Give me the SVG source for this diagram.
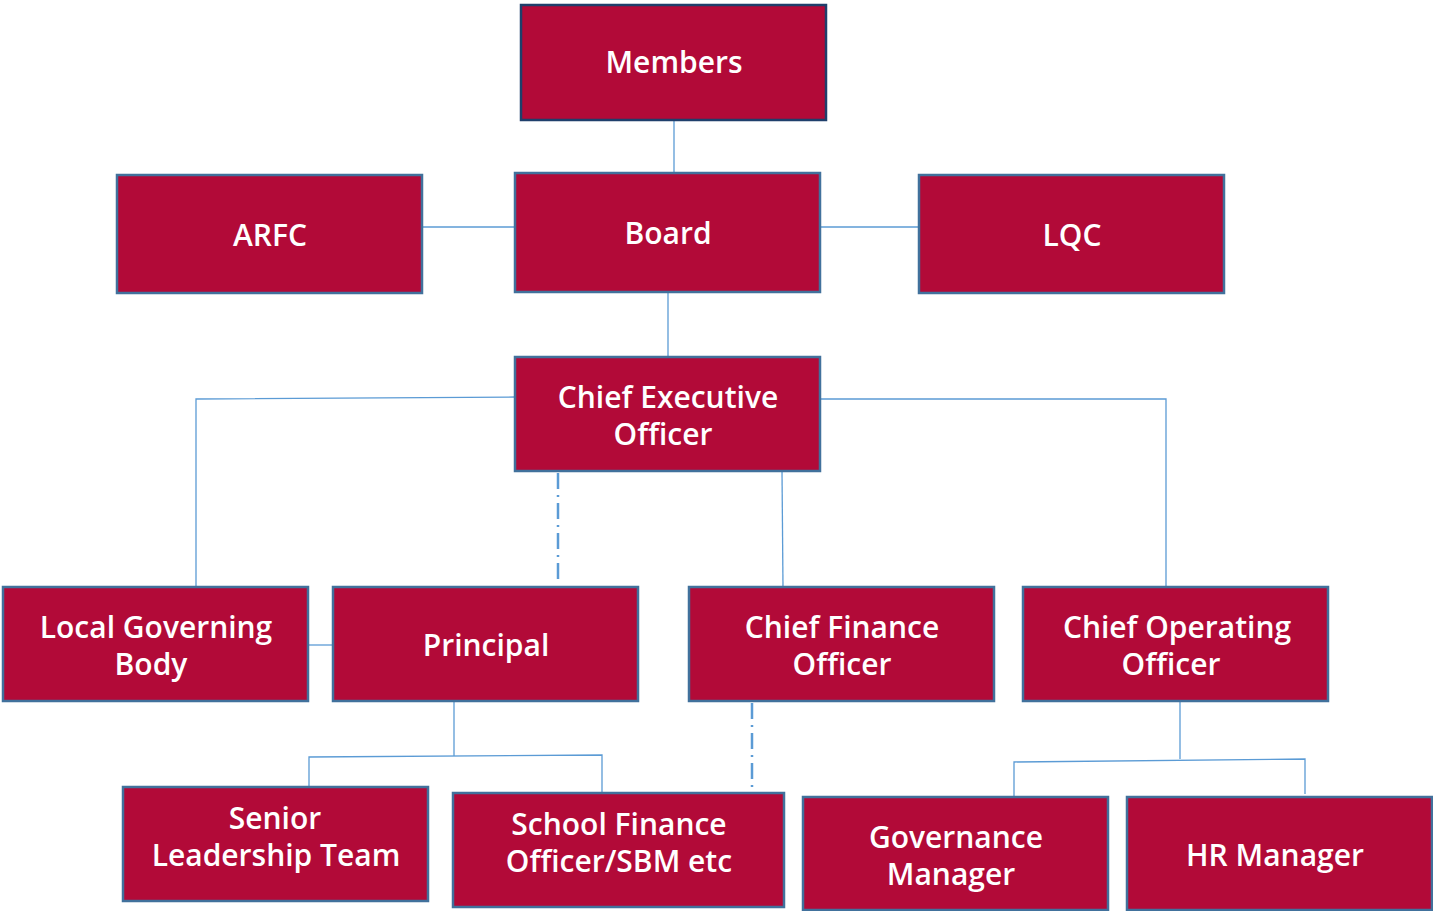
<svg xmlns="http://www.w3.org/2000/svg" width="1433" height="911" viewBox="0 0 1433 911">
<style>
.box{fill:#B20A38;stroke:#41719C;stroke-width:2.5}
.top{stroke:#1F3F6B}
.t{fill:#FFFFFF;font-family:"Open Sans","DejaVu Sans",sans-serif;font-weight:600;font-size:30px;text-anchor:middle}
.c{fill:none;stroke:#5B9BD5;stroke-width:1.3}
.d{fill:none;stroke:#5B9BD5;stroke-width:2.5;stroke-dasharray:16 6 2 6}
</style>
<rect width="1433" height="911" fill="#FFFFFF"/>
<g id="connectors">
<path class="c" d="M674 120V173"/>
<path class="c" d="M422 227H515"/>
<path class="c" d="M820 227H919"/>
<path class="c" d="M668 292V357"/>
<path class="c" d="M515 397L196 399V587"/>
<path class="c" d="M820 399H1166V587"/>
<path class="c" d="M782 471L783 587"/>
<path class="d" d="M558 473V582"/>
<path class="c" d="M308 645H333"/>
<path class="c" d="M454 701V756"/>
<path class="c" d="M309 787V757L602 755V793"/>
<path class="d" d="M752 703V793"/>
<path class="c" d="M1180 701V759"/>
<path class="c" d="M1014 797V762L1305 759V794"/>
</g>
<g id="members"><rect class="box top" x="521" y="5" width="305" height="115"/><text class="t" x="674" y="73">Members</text></g>
<g id="arfc"><rect class="box" x="117" y="175" width="305" height="118"/><text class="t" x="270" y="246">ARFC</text></g>
<g id="board"><rect class="box" x="515" y="173" width="305" height="119"/><text class="t" x="668" y="244">Board</text></g>
<g id="lqc"><rect class="box" x="919" y="175" width="305" height="118"/><text class="t" x="1072" y="246">LQC</text></g>
<g id="ceo"><rect class="box" x="515" y="357" width="305" height="114"/><text class="t" x="668" y="408">Chief Executive</text><text class="t" x="663" y="445">Officer</text></g>
<g id="lgb"><rect class="box" x="3" y="587" width="305" height="114"/><text class="t" x="156" y="638">Local Governing</text><text class="t" x="151" y="675">Body</text></g>
<g id="principal"><rect class="box" x="333" y="587" width="305" height="114"/><text class="t" x="486" y="656">Principal</text></g>
<g id="cfo"><rect class="box" x="689" y="587" width="305" height="114"/><text class="t" x="842" y="638">Chief Finance</text><text class="t" x="842" y="675">Officer</text></g>
<g id="coo"><rect class="box" x="1023" y="587" width="305" height="114"/><text class="t" x="1177" y="638">Chief Operating</text><text class="t" x="1171" y="675">Officer</text></g>
<g id="slt"><rect class="box" x="123" y="787" width="305" height="114"/><text class="t" x="275" y="829">Senior</text><text class="t" x="276" y="866">Leadership Team</text></g>
<g id="sfo"><rect class="box" x="453" y="793" width="331" height="114"/><text class="t" x="619" y="835">School Finance</text><text class="t" x="619" y="872">Officer/SBM etc</text></g>
<g id="gm"><rect class="box" x="803" y="797" width="305" height="113"/><text class="t" x="956" y="848">Governance</text><text class="t" x="951" y="885">Manager</text></g>
<g id="hr"><rect class="box" x="1127" y="797" width="305" height="113"/><text class="t" x="1275" y="866">HR Manager</text></g>
</svg>
